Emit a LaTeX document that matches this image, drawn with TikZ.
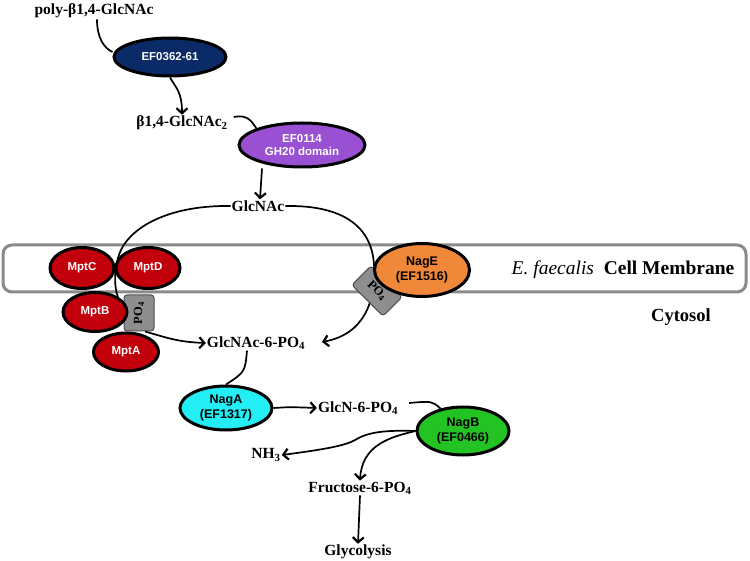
\documentclass[tikz,border=0pt]{standalone}
\usepackage{fontspec}
\setmainfont{Liberation Serif}
\setsansfont{Liberation Sans}
\usetikzlibrary{shapes.geometric,arrows.meta}
\definecolor{navy}{HTML}{0B2A68}
\definecolor{purp}{HTML}{9A50D2}
\definecolor{mptred}{HTML}{C2000C}
\definecolor{nageor}{HTML}{F0883A}
\definecolor{nagacy}{HTML}{22EEF4}
\definecolor{nagbgr}{HTML}{22C322}
\definecolor{pogray}{HTML}{8E8E8E}
\definecolor{memgray}{HTML}{8A8A8A}
\begin{document}
\begin{tikzpicture}[x=1pt,y=-1pt,
  lbl/.style={font=\bfseries\fontsize{15.5}{18}\selectfont, inner sep=1pt},
  enz/.style={ellipse, draw=black, line width=3pt, inner sep=0pt, align=center,
    font=\sffamily\bfseries\fontsize{11.5}{13.5}\selectfont},
  enzb/.style={enz, font=\sffamily\bfseries\fontsize{12.5}{14.5}\selectfont},
  pobox/.style={draw=black!70, fill=pogray, line width=1pt, rounded corners=3pt,
    inner sep=0pt, font=\bfseries\fontsize{12.5}{14}\selectfont},
  conn/.style={line width=1.7pt, draw=black},
  arr/.style={conn, -{Straight Barb[length=5pt,width=11pt,line width=2.2pt]}}]
\useasboundingbox (0,0) rectangle (750,561);

% membrane
\node[draw=memgray, line width=3pt, rounded corners=9pt, minimum width=743pt,
  minimum height=47pt, inner sep=0pt] (mem) at (374.5,268.5) {};
\node[font=\fontsize{19.5}{21}\selectfont] (memlbl) at (623,270)
  {\textit{E. faecalis}\enspace\textbf{Cell Membrane}};
\node[font=\bfseries\fontsize{18.5}{20}\selectfont] (cyto) at (681,317) {Cytosol};

% metabolite labels
\node[lbl] (poly) at (94,11) {poly-β1,4-GlcNAc};
\node[lbl] (b14) at (182,123) {β1,4-GlcNAc\textsubscript{2}};
\node[lbl] (glcnac) at (258,206) {GlcNAc};
\node[lbl] (g6p) at (256,343) {GlcNAc-6-PO\textsubscript{4}};
\node[lbl] (gn6p) at (358,408) {GlcN-6-PO\textsubscript{4}};
\node[lbl] (nh3) at (266,455) {NH\textsubscript{3}};
\node[lbl] (f6p) at (360,488) {Fructose-6-PO\textsubscript{4}};
\node[lbl] (glyc) at (358,552) {Glycolysis};

% coordinates for connectors
\coordinate (arcL) at (120,302);
\coordinate (arcR) at (374,265);
\coordinate (g6pin) at (322,342);

% connectors behind enzymes
\draw[conn] (glcnac.west) .. controls (165,205) and (125,230) .. (118,258)
  .. controls (113,278) and (115,292) .. (arcL);
\draw[arr] (glcnac.east) .. controls (345,205) and (372,228) .. (arcR)
  .. controls (376,300) and (365,334) .. (g6pin);

% PO4 boxes
\node[pobox, rotate=90, minimum width=36pt, minimum height=30pt] (poB) at (139,313) {PO\textsubscript{4}};
\node[pobox, minimum width=44pt, minimum height=27pt, rotate=-45] (poE) at (377,291) {PO\textsubscript{4}};

% enzymes
\node[enz, fill=navy, text=white, minimum width=112pt, minimum height=38pt] (e0362) at (170,57) {EF0362-61};
\node[enz, fill=purp, text=white, minimum width=126pt, minimum height=44pt] (e0114) at (302,145) {EF0114\\[-1pt]GH20 domain};
\node[enz, fill=mptred, text=white, minimum width=64pt, minimum height=41pt] (mptc) at (82,268) {MptC};
\node[enz, fill=mptred, text=white, minimum width=64pt, minimum height=41pt] (mptd) at (148,268) {MptD};
\node[enz, fill=mptred, text=white, minimum width=64pt, minimum height=39pt] (mptb) at (95,312) {MptB};
\node[enz, fill=mptred, text=white, minimum width=65pt, minimum height=38pt] (mpta) at (126,352) {MptA};
\node[enzb, fill=nageor, text=black, minimum width=95pt, minimum height=53pt] (nage) at (422,270) {NagE\\(EF1516)};
\node[enzb, fill=nagacy, text=black, minimum width=92pt, minimum height=44pt] (naga) at (226,408) {NagA\\(EF1317)};
\node[enzb, fill=nagbgr, text=black, minimum width=92pt, minimum height=48pt] (nagb) at (463,431) {NagB\\(EF0466)};

% connectors
\draw[conn] ([xshift=3pt]poly.south) .. controls (97,38) and (104,48) .. (e0362.west |- 0,52);
\draw[arr] (e0362.south) .. controls (176,88) and (182,92) .. (b14.north);
\draw[conn] (b14.east) ++(5,-6) .. controls (248,114) and (252,122) .. (e0114.north west);
\draw[arr] ([xshift=-40pt]e0114.south) -- ([xshift=2pt]glcnac.north);
\draw[arr] (poB.west) ++(6,0) .. controls (168,338) and (178,342) .. (g6p.west);
\draw[conn] ([xshift=-9pt]g6p.south) .. controls (245,372) .. (naga.north);
\draw[arr] (naga.east) .. controls (290,407) .. (gn6p.west);
\draw[conn] (gn6p.east) ++(10,-5) .. controls (432,401) .. (nagb.135);
\draw[arr] (nagb.west) .. controls (385,430) and (368,432) .. (355,440)
  .. controls (345,446) and (320,450) .. (nh3.east);
\draw[arr] (nagb.west) .. controls (390,437) and (362,445) .. (f6p.north);
\draw[arr] (f6p.south) -- (glyc.north);
\end{tikzpicture}
\end{document}
